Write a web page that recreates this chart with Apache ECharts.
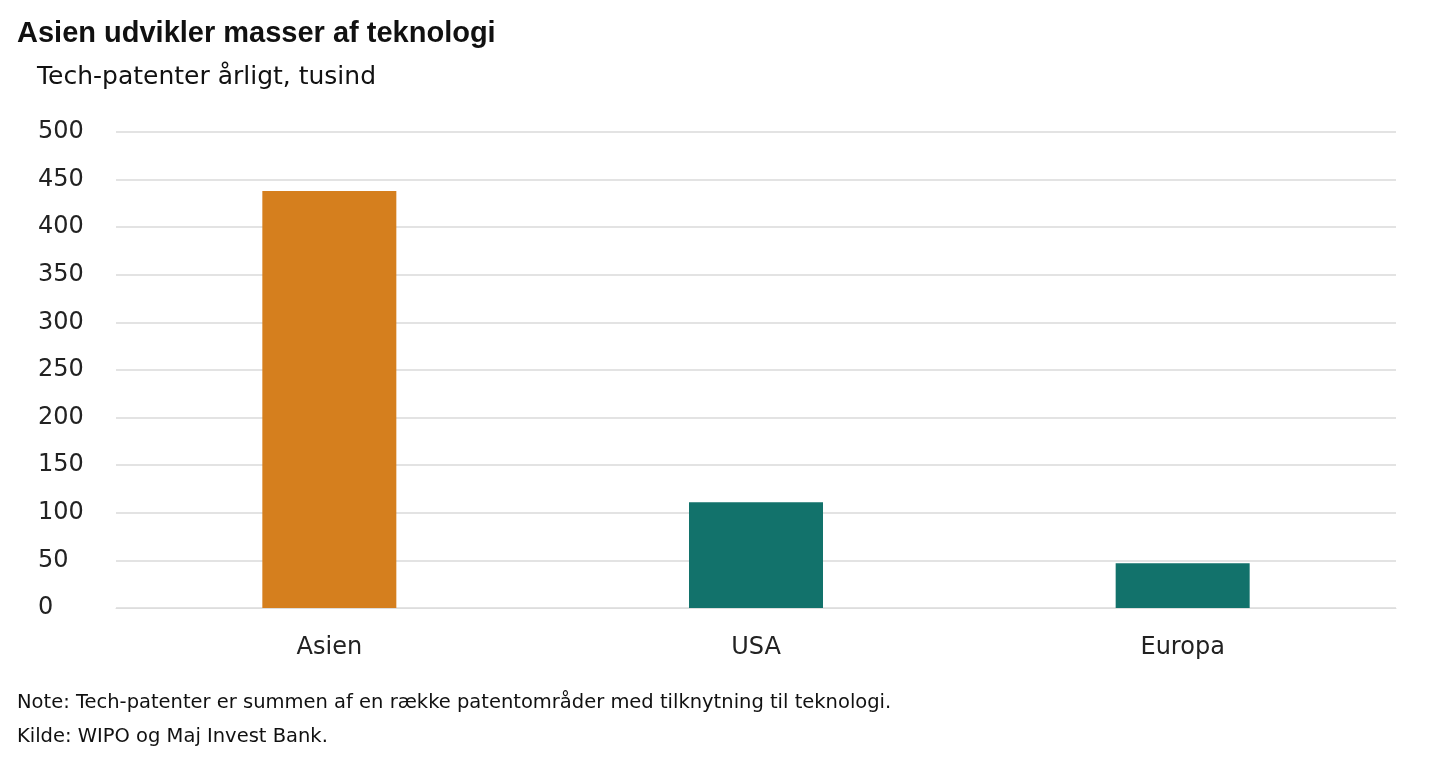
<!DOCTYPE html>
<html><head><meta charset="utf-8">
<script src="https://cdn.jsdelivr.net/npm/echarts@6/dist/echarts.min.js"></script>
<style>html,body{margin:0;background:#fff}#c{width:1440px;height:760px}</style>
</head><body><div id="c"></div>
<script>
const categories = ['Asien', 'USA', 'Europa'];
const values = [438, 111, 47];
const barColors = ['#d57f1e', '#12726b', '#12726b'];
const yTicks = [0, 50, 100, 150, 200, 250, 300, 350, 400, 450, 500];

const chart = echarts.init(document.getElementById('c'));
const font = 'Verdana, "DejaVu Sans", sans-serif';
chart.setOption({
  animation: false,
  textStyle: { fontFamily: font },
  title: [
    { text: 'Asien udvikler masser af teknologi', left: 12, top: 14,
      textStyle: { fontFamily: 'Arial, "Liberation Sans", sans-serif', fontSize: 29, fontWeight: 'bold', color: '#111' } },
    { text: 'Tech-patenter årligt, tusind', left: 32, top: 60,
      textStyle: { fontFamily: font, fontSize: 25, fontWeight: 'normal', color: '#111' } },
    { text: 'Note: Tech-patenter er summen af en række patentområder med tilknytning til teknologi.', left: 12, top: 688,
      textStyle: { fontFamily: font, fontSize: 19.5, fontWeight: 'normal', color: '#111' } },
    { text: 'Kilde: WIPO og Maj Invest Bank.', left: 12, top: 722,
      textStyle: { fontFamily: font, fontSize: 19.5, fontWeight: 'normal', color: '#111' } }
  ],
  grid: { left: 116, right: 44, top: 132, bottom: 152 },
  xAxis: {
    type: 'category', data: categories,
    axisLine: { lineStyle: { color: '#ddd' } }, axisTick: { show: false },
    axisLabel: { fontSize: 24, color: '#222', margin: 28, fontFamily: font }
  },
  yAxis: {
    type: 'value', min: yTicks[0], max: yTicks[yTicks.length - 1], interval: 50,
    axisLabel: { fontSize: 24, color: '#222', align: 'left', margin: 78, fontFamily: font },
    splitLine: { lineStyle: { color: '#e3e3e3', width: 2 } },
    axisLine: { show: false }, axisTick: { show: false }
  },
  series: [{
    type: 'bar', barWidth: 134,
    data: values.map((v, i) => ({ value: v, itemStyle: { color: barColors[i] } }))
  }]
});
</script></body></html>
